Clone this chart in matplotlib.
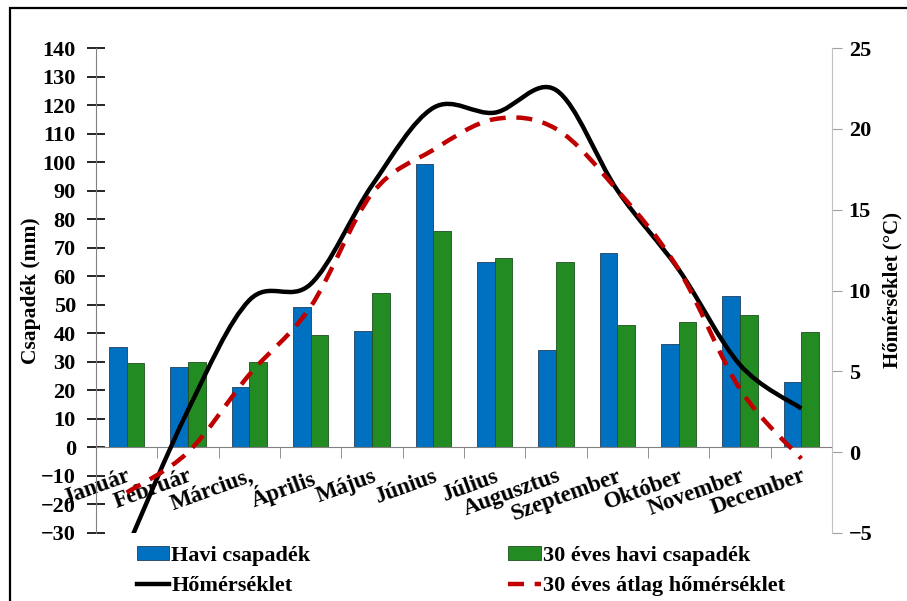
import numpy as np
import matplotlib
matplotlib.use("Agg")
import matplotlib.pyplot as plt
from matplotlib.path import Path
from matplotlib.patches import PathPatch, Rectangle, Patch
from matplotlib.lines import Line2D


months = ["Január", "Február", "Március,", "Április", "Május", "Június",
          "Július", "Augusztus", "Szeptember", "Október", "November", "December"]

havi_csapadek = [35.1, 28.3, 21.1, 49.2, 40.8, 99.5, 65.0, 34.0, 68.0, 36.3, 53.0, 22.8]
harminc_eves_csapadek = [29.5, 30.0, 30.0, 39.4, 54.1, 76.0, 66.5, 65.0, 43.0, 44.0, 46.5, 40.3]

homerseklet = [-6.0, 2.6, 9.4, 10.4, 16.5, 21.3, 21.0, 22.4, 16.2, 11.3, 5.4, 2.7]
atlag_homerseklet = [-2.5, 0.0, 4.8, 9.0, 16.0, 18.7, 20.6, 20.0, 16.2, 11.3, 3.9, -0.4]

BLUE = "#0070C0"
GREEN = "#228B22"
RED = "#C00000"

plt.rcParams["font.family"] = ["Liberation Serif", "DejaVu Serif"]
plt.rcParams["font.weight"] = "bold"


def smooth_path(xs, ys):
    # Excel-style smoothed line: Catmull-Rom segments as cubic Beziers
    pts = np.column_stack([xs, ys]).astype(float)
    n = len(pts)
    verts = [pts[0]]
    codes = [Path.MOVETO]
    for i in range(n - 1):
        p0 = pts[i - 1] if i > 0 else pts[i]
        p1 = pts[i]
        p2 = pts[i + 1]
        p3 = pts[i + 2] if i + 2 < n else pts[i + 1]
        c1 = p1 + (p2 - p0) / 6.0
        c2 = p2 - (p3 - p1) / 6.0
        verts += [c1, c2, p2]
        codes += [Path.CURVE4] * 3
    return Path(verts, codes)


fig = plt.figure(figsize=(9.07, 6.01), dpi=100)
ax = fig.add_axes([96 / 907, 1 - 533 / 601, (832 - 96) / 907, (533 - 48) / 601])
ax2 = ax.twinx()

x = np.arange(len(months))
w = 0.29
ax.bar(x - w / 2, havi_csapadek, w, color=BLUE, edgecolor="#1f3f5f", linewidth=0.6)
ax.bar(x + w / 2, harminc_eves_csapadek, w, color=GREEN, edgecolor="#1f4f1f", linewidth=0.6)

ax.set_xlim(-0.5, 11.5)
ax.set_ylim(-30, 140)
ax.set_yticks(range(-30, 141, 10))
ax.tick_params(axis="y", direction="inout", length=13, width=1.2, labelsize=16, pad=8)

# category axis crosses at zero precipitation
ax.spines["bottom"].set_position(("data", 0))
ax.spines["bottom"].set_color("#808080")
ax.spines["left"].set_color("#808080")
ax.spines["top"].set_visible(False)
ax.spines["right"].set_visible(False)
ax.set_xticks(x)
ax.set_xticklabels(months, rotation=20, ha="right", rotation_mode="anchor", fontsize=16.5)
ax.set_xticks(np.arange(-0.5, 12, 1), minor=True)
ax.tick_params(axis="x", which="major", length=0, pad=13)
ax.tick_params(axis="x", which="minor", direction="out", length=8, color="#808080")
ax.set_ylabel("Csapadék (mm)", fontsize=15.5, fontweight="bold", labelpad=0)

ax2.set_ylim(-5, 25)
ax2.set_yticks(range(-5, 26, 5))
ax2.tick_params(axis="y", direction="out", length=7, color="#a0a0a0", labelsize=16, pad=5)
for side in ["top", "bottom", "left"]:
    ax2.spines[side].set_visible(False)
ax2.spines["right"].set_color("#c0c0c0")
ax2.set_ylabel("Hőmérséklet (°C)", fontsize=15, fontweight="bold", rotation=90, labelpad=7)

ax2.add_patch(PathPatch(smooth_path(x, homerseklet), fill=False,
                        edgecolor="black", linewidth=3.2, capstyle="butt"))
ax2.add_patch(PathPatch(smooth_path(x, atlag_homerseklet), fill=False,
                        edgecolor=RED, linewidth=3.2, linestyle=(0, (3.6, 2.4))))

handles = [
    Patch(facecolor=BLUE, edgecolor="#1f3f5f", linewidth=0.6),
    Line2D([], [], color="black", linewidth=3.2),
    Patch(facecolor=GREEN, edgecolor="#1f4f1f", linewidth=0.6),
    Line2D([], [], color=RED, linewidth=3.2, linestyle=(0, (3.6, 2.4))),
]
labels = ["Havi csapadék", "Hőmérséklet", "30 éves havi csapadék", "30 éves átlag hőmérséklet"]
fig.legend(handles, labels, ncol=2, frameon=False, fontsize=16,
           loc="upper left", bbox_to_anchor=(137 / 907, 1 - 546 / 601),
           handlelength=1.45, handleheight=0.6, handletextpad=0.1,
           columnspacing=8.9, labelspacing=0.45, borderpad=0, borderaxespad=0)

# outer frame
fig.add_artist(Rectangle((10 / 907, -0.05), 1.2, 1.05 - 8 / 601, transform=fig.transFigure,
                         fill=False, edgecolor="black", linewidth=1.6))

fig.savefig("out.png", dpi=100)
